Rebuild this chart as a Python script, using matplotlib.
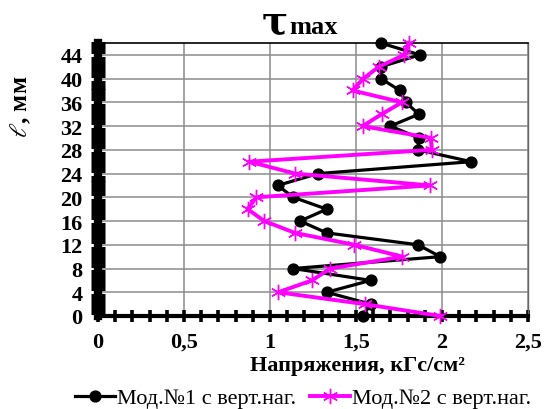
import matplotlib
matplotlib.use("Agg")
import matplotlib.pyplot as plt
from matplotlib.lines import Line2D
import numpy as np

# ---- data ----
depth = [0, 2, 4, 6, 8, 10, 12, 14, 16, 18, 20, 22, 24, 26, 28, 30, 32, 34, 36, 38, 40, 42, 44, 46]
mod1 = [1.54, 1.585, 1.33, 1.585, 1.135, 1.99, 1.86, 1.33, 1.175, 1.33, 1.135, 1.045,
        1.28, 2.17, 1.86, 1.865, 1.70, 1.865, 1.79, 1.755, 1.645, 1.645, 1.87, 1.645]
mod2 = [1.99, 1.55, 1.048, 1.244, 1.35, 1.77, 1.49, 1.145, 0.967, 0.87, 0.92, 1.93,
        1.145, 0.88, 1.94, 1.935, 1.538, 1.649, 1.767, 1.48, 1.542, 1.633, 1.78, 1.809]
xticks = [0, 0.5, 1, 1.5, 2, 2.5]
xticklabels = ["0", "0,5", "1", "1,5", "2", "2,5"]
yticks = list(range(0, 45, 4))
label1 = "Мод.№1 с верт.наг."
label2 = "Мод.№2 с верт.наг."

serif = ["Liberation Serif", "DejaVu Serif"]
plt.rcParams["font.family"] = serif
plt.rcParams["mathtext.fontset"] = "dejavuserif"

W, H = 545, 410
fig = plt.figure(figsize=(W / 100, H / 100), dpi=100)
ax = fig.add_axes([98 / W, 1 - 317 / H, 430 / W, 273 / H])

ax.set_xlim(0, 2.5)
ax.set_ylim(0, 46)

pink = "#ff00ff"
ax.plot(mod1, depth, color="black", lw=2.3, marker="o", ms=7.8, mfc="black",
        mec="black", zorder=4, clip_on=False)
ax.plot(mod2, depth, color=pink, lw=2.8, marker=(6, 2, 0), ms=11, mec=pink,
        mew=1.0, zorder=5, clip_on=False)

# grid
ax.set_xticks(xticks)
ax.set_xticklabels(xticklabels, fontsize=16, fontweight="bold")
ax.set_yticks(yticks)
ax.set_yticklabels([str(v) for v in yticks], fontsize=16, fontweight="bold")
ax.grid(True, color="#8c8c8c", lw=1.1)
ax.set_axisbelow(True)

ax.set_xticks(np.arange(0, 2.51, 0.1), minor=True)
ax.set_yticks(np.arange(0, 46.01, 0.5), minor=True)
ax.tick_params(axis="x", which="both", direction="inout", length=9, width=2.6,
               color="black", pad=7)
ax.tick_params(axis="y", which="both", direction="inout", length=10, width=2.2,
               color="black", pad=11)
ax.tick_params(axis="y", which="major", length=0)

ax.spines["left"].set_linewidth(6)
ax.spines["bottom"].set_linewidth(3)
ax.spines["top"].set_linewidth(1.2)
ax.spines["top"].set_color("black")
ax.spines["right"].set_linewidth(1.0)
ax.spines["right"].set_color("#666666")

# title
fig.text(288 / W, 1 - 34 / H, "τ", fontsize=28, fontweight="bold",
         family=["DejaVu Serif"], ha="right", va="baseline")
fig.text(289 / W, 1 - 34 / H, "max", fontsize=19, fontweight="bold",
         ha="left", va="baseline")

# axis labels
fig.text(357 / W, 1 - 366 / H, "Напряжения, кГс/см²", fontsize=16,
         fontweight="bold", ha="center", va="center")
fig.text(21 / W, 1 - 107 / H, "$\\ell$, мм", fontsize=18, fontweight="bold",
         rotation=90, ha="center", va="center")

# legend
h1 = Line2D([], [], color="black", lw=2.3, marker="o", ms=7.8)
h2 = Line2D([], [], color=pink, lw=2.8, marker=(6, 2, 0), ms=11, mew=1.0)
fig.legend([h1, h2], [label1, label2], loc="center", bbox_to_anchor=(303 / W, 11 / H),
           ncol=2, frameon=False, fontsize=16, handlelength=1.8, handletextpad=0.1,
           columnspacing=0.6, borderpad=0, borderaxespad=0)

fig.savefig("out.png", dpi=100)
